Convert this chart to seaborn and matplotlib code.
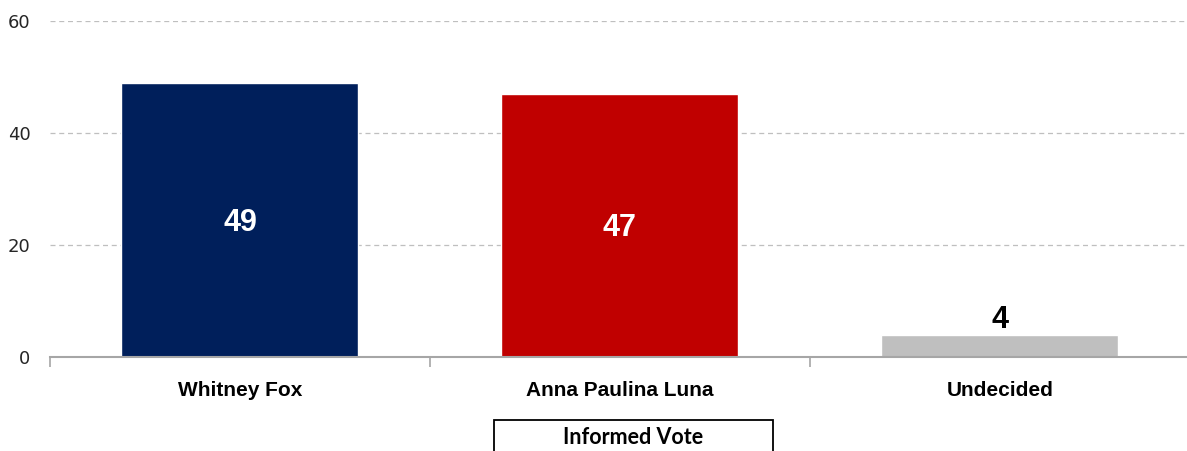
import pandas as pd
import seaborn as sns
import matplotlib.pyplot as plt
from matplotlib.patches import Rectangle

# Data
candidates = ["Whitney Fox", "Anna Paulina Luna", "Undecided"]
shares = [49, 47, 4]
colors = ["#001F5B", "#C00000", "#BFBFBF"]
label_colors = ["white", "white", "black"]

df = pd.DataFrame({"candidate": candidates, "share": shares})

sns.set_style("white")
plt.rcParams["font.family"] = ["DejaVu Sans"]

fig = plt.figure(figsize=(11.87, 4.51), dpi=100)
ax = fig.add_axes([0.0421, 0.2084, 0.9603, 0.745])

sns.barplot(data=df, x="candidate", y="share", hue="candidate",
            palette=colors, width=0.624, saturation=1, legend=False, ax=ax)

ax.set_xlim(-0.5, 2.5)
ax.set_ylim(0, 60)
ax.set_yticks([0, 20, 40, 60])
ax.yaxis.grid(True, linestyle=(0, (4, 3)), color="#BFBFBF", linewidth=0.9)
ax.set_axisbelow(True)
for s in ["left", "right", "top"]:
    ax.spines[s].set_visible(False)
ax.spines["bottom"].set_color("#A6A6A6")
ax.spines["bottom"].set_linewidth(1.5)

ax.set_xlabel("")
ax.set_ylabel("")
ax.tick_params(axis="y", length=0, labelsize=13, pad=14, labelcolor="#262626")
# category labels centered, ticks between categories
ax.set_xticks([0, 1, 2])
ax.set_xticklabels(candidates, fontsize=15, fontweight="bold", color="black",
                   family=["Liberation Sans", "DejaVu Sans"])
ax.tick_params(axis="x", length=0, pad=17)
ax.set_xticks([-0.5, 0.5, 1.5, 2.5], minor=True)
ax.tick_params(axis="x", which="minor", bottom=True, length=7,
               color="#A6A6A6", width=1.2)

# value labels
for i, (v, c) in enumerate(zip(shares, label_colors)):
    if v > 10:
        ax.text(i, v / 2 - 0.5, str(v), ha="center", va="center", color=c,
                fontsize=22, fontweight="bold",
                family=["Liberation Sans", "DejaVu Sans"])
    else:
        ax.text(i, v - 0.1, str(v), ha="center", va="bottom", color=c,
                fontsize=22, fontweight="bold",
                family=["Liberation Sans", "DejaVu Sans"])

# "Informed Vote" box below chart
fig.patches.append(Rectangle((494 / 1187, -0.02), 279 / 1187, 0.089,
                             transform=fig.transFigure, fill=False,
                             edgecolor="black", linewidth=1.3))
fig.text(633 / 1187, 1 - 437 / 451, "Informed Vote", ha="center", va="center",
         fontsize=15.5, fontweight="bold", color="black",
         family=["Lato", "DejaVu Sans"])

fig.savefig("out.png", dpi=100)
